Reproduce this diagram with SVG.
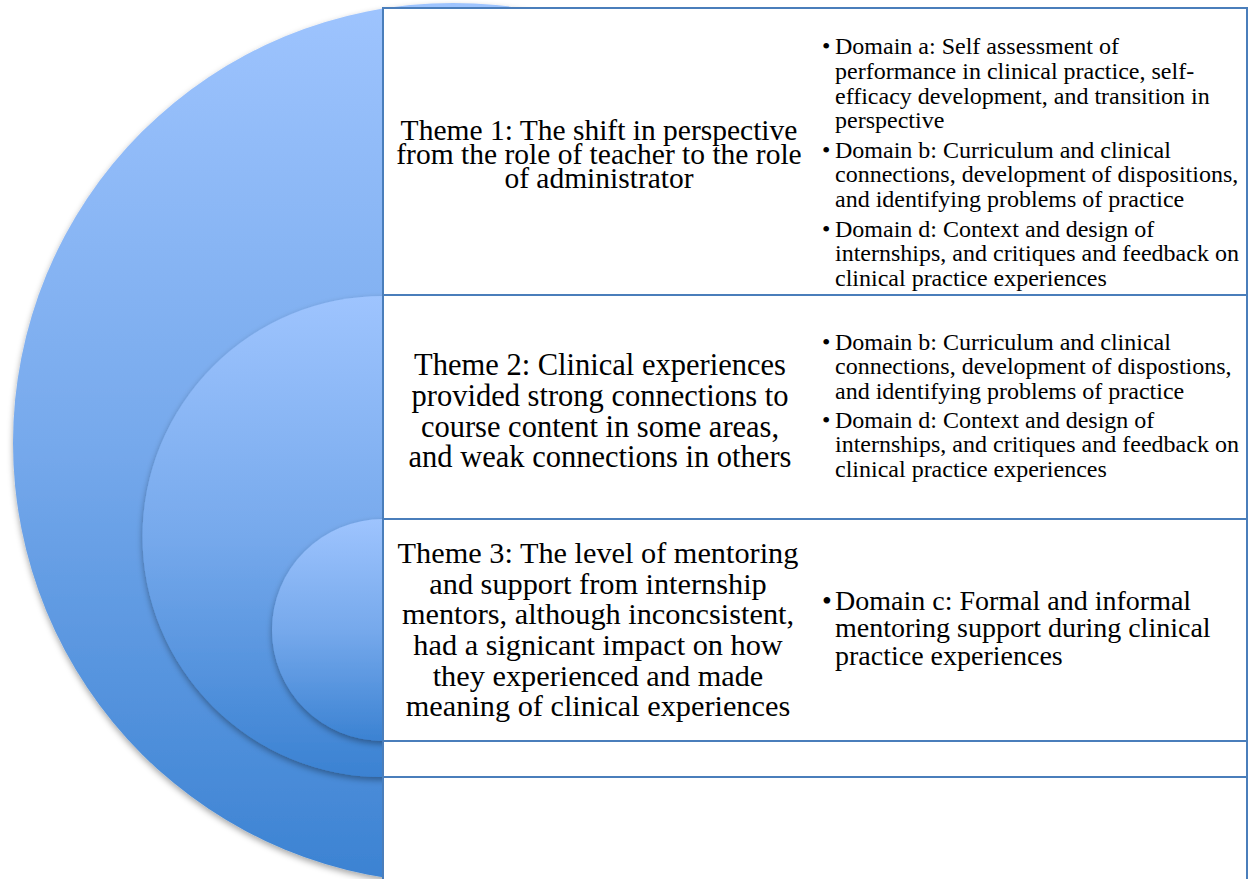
<svg xmlns="http://www.w3.org/2000/svg" width="1249" height="879" viewBox="0 0 1249 879">
<defs>
  <linearGradient id="blue" x1="0" y1="0" x2="0" y2="1">
    <stop offset="0" stop-color="#9EC4FE"/>
    <stop offset="0.5" stop-color="#76A9EC"/>
    <stop offset="1" stop-color="#3B82D2"/>
  </linearGradient>
  <filter id="sh" x="-10%" y="-10%" width="120%" height="125%">
    <feDropShadow dx="0" dy="3" stdDeviation="3" flood-color="#000" flood-opacity="0.35"/>
  </filter>
</defs>
<style>
  .circ{fill:url(#blue);filter:url(#sh)}
  .box{fill:#fff;stroke:#4A7EBB;stroke-width:2}
  .t{font-family:"Liberation Serif","Times New Roman",serif;fill:#000}
  .th1{font-size:29.5px;text-anchor:middle}
  .th2{font-size:30.5px;text-anchor:middle}
  .th3{font-size:30.3px;text-anchor:middle}
  .dm{font-size:24px}
  .dc{font-size:28px}
</style>
<g id="circle-outer"><circle class="circ" cx="453" cy="443" r="440"/></g>
<g id="circle-middle"><circle class="circ" cx="383" cy="536.5" r="240.5"/></g>
<g id="circle-inner"><circle class="circ" cx="383" cy="630" r="111"/></g>

<g id="row1">
  <rect class="box" x="383" y="8" width="864" height="287"/>
  <text class="t th1" x="599" y="140">Theme 1: The shift in perspective</text>
  <text class="t th1" x="599" y="164">from the role of teacher to the role</text>
  <text class="t th1" x="599" y="188">of administrator</text>
  <g class="t dm">
    <text x="822" y="54">•</text>
    <text x="835" y="54">Domain a: Self assessment of</text>
    <text x="835" y="79">performance in clinical practice, self-</text>
    <text x="835" y="104">efficacy development, and transition in</text>
    <text x="835" y="128">perspective</text>
    <text x="822" y="158">•</text>
    <text x="835" y="158">Domain b: Curriculum and clinical</text>
    <text x="835" y="182">connections, development of dispositions,</text>
    <text x="835" y="207">and identifying problems of practice</text>
    <text x="822" y="237">•</text>
    <text x="835" y="237">Domain d: Context and design of</text>
    <text x="835" y="261">internships, and critiques and feedback on</text>
    <text x="835" y="286">clinical practice experiences</text>
  </g>
</g>

<g id="row2">
  <rect class="box" x="383" y="295" width="864" height="224"/>
  <text class="t th2" x="600" y="375">Theme 2: Clinical experiences</text>
  <text class="t th2" x="600" y="406">provided strong connections to</text>
  <text class="t th2" x="600" y="437">course content in some areas,</text>
  <text class="t th2" x="600" y="467">and weak connections in others</text>
  <g class="t dm">
    <text x="822" y="350">•</text>
    <text x="835" y="350">Domain b: Curriculum and clinical</text>
    <text x="835" y="374">connections, development of dispostions,</text>
    <text x="835" y="399">and identifying problems of practice</text>
    <text x="822" y="428">•</text>
    <text x="835" y="428">Domain d: Context and design of</text>
    <text x="835" y="452">internships, and critiques and feedback on</text>
    <text x="835" y="477">clinical practice experiences</text>
  </g>
</g>

<g id="row3">
  <rect class="box" x="383" y="519" width="864" height="222"/>
  <text class="t th3" x="598" y="563">Theme 3: The level of mentoring</text>
  <text class="t th3" x="598" y="594">and support from internship</text>
  <text class="t th3" x="598" y="624">mentors, although inconcsistent,</text>
  <text class="t th3" x="598" y="655">had a signicant impact on how</text>
  <text class="t th3" x="598" y="686">they experienced and made</text>
  <text class="t th3" x="598" y="716">meaning of clinical experiences</text>
  <g class="t dc">
    <text x="822" y="610">•</text>
    <text x="835" y="610">Domain c: Formal and informal</text>
    <text x="835" y="637">mentoring support during clinical</text>
    <text x="835" y="665">practice experiences</text>
  </g>
</g>

<g id="row4"><rect class="box" x="383" y="741" width="864" height="36"/></g>
<g id="row5"><rect class="box" x="383" y="777" width="864" height="120"/></g>
</svg>
